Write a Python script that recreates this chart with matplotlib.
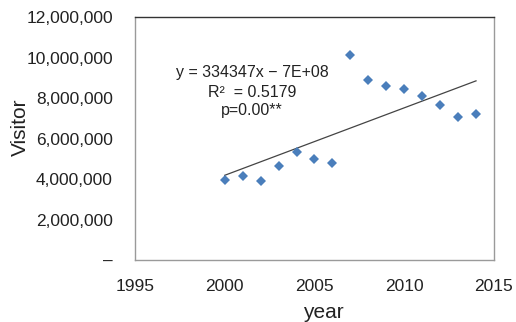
import numpy as np
import matplotlib
matplotlib.use('Agg')
import matplotlib.pyplot as plt
from matplotlib.ticker import FuncFormatter

# visitors per year
years = [2000, 2001, 2002, 2003, 2004, 2005, 2006, 2007,
         2008, 2009, 2010, 2011, 2012, 2013, 2014]
visitors = [3950000, 4150000, 3890000, 4630000, 5330000, 4990000, 4810000, 10120000,
            8890000, 8580000, 8430000, 8080000, 7650000, 7060000, 7190000]

eq_text = 'y = 334347x \u2212 7E+08'
r2_text = 'R\u00b2  = 0.5179'
p_text = 'p=0.00**'

plt.rcParams['font.family'] = ['Liberation Sans', 'DejaVu Sans']

fig = plt.figure(figsize=(5.16, 3.22), dpi=100)
ax = fig.add_axes([0.2616, 0.1925, 0.6957, 0.7545])

x = np.array(years, dtype=float)
y = np.array(visitors, dtype=float)
ax.plot(x, y, linestyle='none', marker='D', markersize=5,
        color='#4a7ebb', markeredgewidth=0, zorder=3)

# linear trend line
coef = np.polyfit(x, y, 1)
ax.plot(x[[0, -1]], np.polyval(coef, x[[0, -1]]), color='#444444', lw=0.9, zorder=2)

ax.set_xlim(1995, 2015)
ax.set_ylim(0, 12000000)
ax.set_xticks([1995, 2000, 2005, 2010, 2015])
ax.set_yticks(np.arange(0, 12000001, 2000000))

def yfmt(v, pos):
    if v == 0:
        return '\u2013'
    return '{:,.0f}'.format(v)
ax.yaxis.set_major_formatter(FuncFormatter(yfmt))

ax.tick_params(length=0, labelsize=12.5, colors='#222222')
ax.tick_params(axis='y', pad=16)
ax.tick_params(axis='x', pad=14)

for s in ['left', 'bottom', 'right']:
    ax.spines[s].set_color('#9a9a9a')
    ax.spines[s].set_linewidth(1.0)
ax.spines['top'].set_color('#333333')
ax.spines['top'].set_linewidth(1.0)

ax.set_xlabel('year', fontsize=15, color='#222222')
ax.set_ylabel('Visitor', fontsize=15, color='#222222')
ax.xaxis.set_label_coords(0.524, -0.178)
ax.yaxis.set_label_coords(-0.294, 0.545)

ax.text(0.326, 0.77, eq_text, transform=ax.transAxes, ha='center', va='center',
        fontsize=11.5, color='#222222')
ax.text(0.326, 0.691, r2_text, transform=ax.transAxes, ha='center', va='center',
        fontsize=11.5, color='#222222')
ax.text(0.326, 0.617, p_text, transform=ax.transAxes, ha='center', va='center',
        fontsize=11.5, color='#222222')

fig.savefig('out.png', dpi=100)
